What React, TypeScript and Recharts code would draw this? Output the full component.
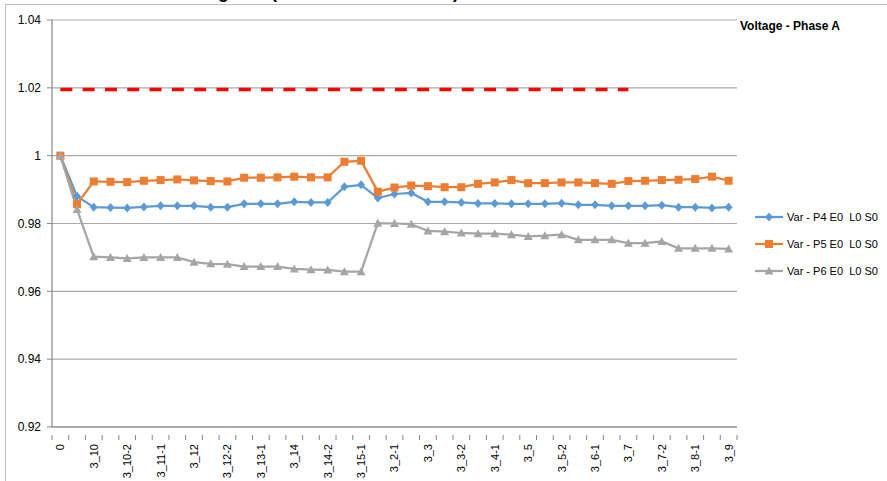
import React from 'react';
import { LineChart, Line, XAxis, YAxis, CartesianGrid } from 'recharts';

const categories = ['0','3_1','3_10','3_10-1','3_10-2','3_11','3_11-1','3_11-2','3_12','3_12-1','3_12-2','3_13','3_13-1','3_13-2','3_14','3_14-1','3_14-2','3_15','3_15-1','3_2','3_2-1','3_2-2','3_3','3_3-1','3_3-2','3_4','3_4-1','3_4-2','3_5','3_5-1','3_5-2','3_6','3_6-1','3_6-2','3_7','3_7-1','3_7-2','3_8','3_8-1','3_8-2','3_9'];

const p4 = [1.0, 0.988, 0.9848, 0.9847, 0.9846, 0.9849, 0.9852, 0.9852, 0.9852, 0.9848, 0.9848,
  0.9858, 0.9858, 0.9858, 0.9864, 0.9862, 0.9862, 0.9908, 0.9914, 0.9875, 0.9887,
  0.989, 0.9864, 0.9864, 0.9862, 0.9859, 0.9859, 0.9858, 0.9858, 0.9858, 0.986,
  0.9855, 0.9855, 0.9852, 0.9852, 0.9852, 0.9854, 0.9848, 0.9848, 0.9846, 0.9848];

const p5 = [1.0, 0.9857, 0.9924, 0.9923, 0.9922, 0.9926, 0.9928, 0.993, 0.9927, 0.9925, 0.9924,
  0.9935, 0.9935, 0.9936, 0.9938, 0.9936, 0.9936, 0.9982, 0.9985, 0.9894, 0.9906,
  0.9912, 0.991, 0.9907, 0.9907, 0.9917, 0.9921, 0.9928, 0.9919, 0.9919, 0.9921,
  0.9921, 0.9919, 0.9917, 0.9925, 0.9926, 0.9928, 0.9929, 0.9931, 0.9938, 0.9926];

const p6 = [1.0, 0.9841, 0.9702, 0.970, 0.9697, 0.970, 0.970, 0.970, 0.9686, 0.9681, 0.968,
  0.9673, 0.9673, 0.9673, 0.9666, 0.9664, 0.9663, 0.9658, 0.9658, 0.9801, 0.98,
  0.9798, 0.9778, 0.9776, 0.9772, 0.977, 0.977, 0.9767, 0.9762, 0.9764, 0.9767,
  0.9752, 0.9752, 0.9752, 0.9742, 0.9742, 0.9747, 0.9727, 0.9727, 0.9727, 0.9725];

const limitValue = 1.0195;
const limitLastIndex = 34;

const yTicks = [0.92, 0.94, 0.96, 0.98, 1, 1.02, 1.04];

const seriesNames = ['Var - P4 E0  L0 S0', 'Var - P5 E0  L0 S0', 'Var - P6 E0  L0 S0'];
const seriesColors = ['#5B9BD5', '#ED7D31', '#A5A5A5'];

const data = categories.map((c, i) => ({
  cat: c,
  p4: p4[i],
  p5: p5[i],
  p6: p6[i],
  limit: i <= limitLastIndex ? limitValue : null,
}));

const FONT = '"Liberation Sans", Arial, sans-serif';
const CHART_W = 887;
const CHART_H = 481;
const PLOT_LEFT = 52;
const PLOT_RIGHT_MARGIN = 150;
const BAND = (CHART_W - PLOT_LEFT - PLOT_RIGHT_MARGIN) / categories.length;

const Diamond = (props: any) => {
  const { cx, cy, stroke } = props;
  if (cx == null || cy == null) return null;
  return <path d={`M${cx},${cy - 4.5}L${cx + 4},${cy}L${cx},${cy + 4.5}L${cx - 4},${cy}Z`} fill={stroke} />;
};
const Square = (props: any) => {
  const { cx, cy, stroke } = props;
  if (cx == null || cy == null) return null;
  return <rect x={cx - 4} y={cy - 4} width={8} height={8} fill={stroke} />;
};
const Triangle = (props: any) => {
  const { cx, cy, stroke } = props;
  if (cx == null || cy == null) return null;
  return <path d={`M${cx},${cy - 4.5}L${cx + 4.5},${cy + 3.5}L${cx - 4.5},${cy + 3.5}Z`} fill={stroke} />;
};

const XTick = (props: any) => {
  const { x, y, payload, index } = props;
  const half = BAND / 2;
  const isLast = index === categories.length - 1;
  return (
    <g>
      <line x1={x - half} y1={y} x2={x - half} y2={y + 5} stroke="#868686" strokeWidth={1} />
      {isLast && <line x1={x + half} y1={y} x2={x + half} y2={y + 5} stroke="#868686" strokeWidth={1} />}
      {index % 2 === 0 && (
        <text
          x={x}
          y={y + 9}
          transform={`rotate(-90, ${x}, ${y + 9})`}
          textAnchor="end"
          dy="0.36em"
          fontSize={11}
          fontFamily={FONT}
          fill="#000"
        >
          {payload.value}
        </text>
      )}
    </g>
  );
};

const markerFor = (i: number, color: string, x: number, y: number) => {
  if (i === 0) return <Diamond cx={x} cy={y} stroke={color} />;
  if (i === 1) return <Square cx={x} cy={y} stroke={color} />;
  return <Triangle cx={x} cy={y} stroke={color} />;
};

export default function App() {
  return (
    <div style={{ position: 'absolute', left: 0, top: 0, width: CHART_W, height: CHART_H, overflow: 'hidden', background: '#fff' }}>
      <div style={{ position: 'absolute', left: 5, top: 4, width: 900, height: 600, borderTop: '1px solid #BFBFBF', borderLeft: '1px solid #BFBFBF' }} />
      <div style={{ position: 'absolute', left: 175, top: -19, fontFamily: FONT, fontWeight: 'bold', fontSize: 18, lineHeight: '22px', whiteSpace: 'pre' }}>Voltage</div>
      <div style={{ position: 'absolute', left: 271, top: -19, fontFamily: FONT, fontWeight: 'bold', fontSize: 18, lineHeight: '22px', whiteSpace: 'pre', width: 194 }}>(Variation Results      )</div>
      <div style={{ position: 'absolute', left: 740, top: 19, fontFamily: FONT, fontWeight: 'bold', fontSize: 12, whiteSpace: 'pre' }}>Voltage - Phase A</div>
      <div style={{ position: 'absolute', left: 0, top: 0 }}>
        <LineChart width={CHART_W} height={CHART_H} data={data} margin={{ top: 20, right: PLOT_RIGHT_MARGIN, bottom: 0, left: 0 }}>
          <CartesianGrid horizontal vertical={false} stroke="#ABABAB" strokeWidth={1.2} />
          <XAxis
            dataKey="cat"
            interval={0}
            height={54}
            padding={{ left: BAND / 2, right: BAND / 2 }}
            tickLine={false}
            axisLine={{ stroke: '#868686', strokeWidth: 1.2 }}
            tick={<XTick />}
          />
          <YAxis
            width={PLOT_LEFT}
            domain={[0.92, 1.04]}
            ticks={yTicks}
            allowDataOverflow
            tickSize={5}
            tickMargin={6}
            tickLine={{ stroke: '#868686' }}
            axisLine={{ stroke: '#868686', strokeWidth: 1.2 }}
            tick={{ fontSize: 12, fontFamily: FONT, fill: '#000' }}
          />
          <Line
            dataKey="limit"
            stroke="#FF0000"
            strokeWidth={3.5}
            strokeDasharray="12 10.3"
            dot={false}
            activeDot={false}
            legendType="none"
            isAnimationActive={false}
            connectNulls={false}
          />
          <Line dataKey="p4" name={seriesNames[0]} stroke={seriesColors[0]} strokeWidth={2.25} dot={<Diamond />} activeDot={false} isAnimationActive={false} />
          <Line dataKey="p5" name={seriesNames[1]} stroke={seriesColors[1]} strokeWidth={2.25} dot={<Square />} activeDot={false} isAnimationActive={false} />
          <Line dataKey="p6" name={seriesNames[2]} stroke={seriesColors[2]} strokeWidth={2.25} dot={<Triangle />} activeDot={false} isAnimationActive={false} />
        </LineChart>
      </div>
      <div style={{ position: 'absolute', left: 754, top: 203, fontFamily: FONT, fontSize: 11, color: '#000' }}>
        {seriesNames.map((n, i) => (
          <div key={n} style={{ display: 'flex', alignItems: 'center', height: 27 }}>
            <svg width={32} height={12} style={{ display: 'block' }}>
              <line x1={1} y1={6} x2={29} y2={6} stroke={seriesColors[i]} strokeWidth={2.25} />
              {markerFor(i, seriesColors[i], 15, 6)}
            </svg>
            <span style={{ whiteSpace: 'pre', marginLeft: 1 }}>{n}</span>
          </div>
        ))}
      </div>
    </div>
  );
}
